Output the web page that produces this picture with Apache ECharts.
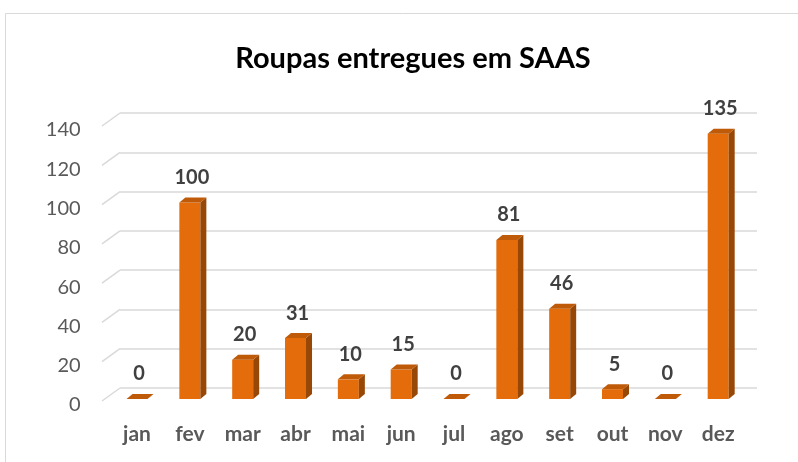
<!DOCTYPE html>
<html>
<head>
<meta charset="utf-8">
<script src="https://cdn.jsdelivr.net/npm/echarts@6/dist/echarts.min.js"></script>
<style>
  html, body { margin: 0; padding: 0; background: #fff; }
  #chart { width: 798px; height: 462px; }
</style>
</head>
<body>
<div id="chart"></div>
<script>
const categories = ['jan', 'fev', 'mar', 'abr', 'mai', 'jun', 'jul', 'ago', 'set', 'out', 'nov', 'dez']
const values = [0, 100, 20, 31, 10, 15, 0, 81, 46, 5, 0, 135]
const wallTicks = [0, 20, 40, 60, 80, 100, 120, 140]

const FONT = 'Lato, "Open Sans", sans-serif'
const DEPTH_X = 6
const DEPTH_Y = 5
const BAR_W = 21

const chart = echarts.init(document.getElementById('chart'))

function renderBar(params, api) {
  const i = api.value(0)
  const v = api.value(1)
  const top = api.coord([i, v])
  const base = api.coord([i, 0])
  const x0 = top[0] - BAR_W / 2
  const x1 = top[0] + BAR_W / 2
  return {
    type: 'group',
    children: [
      {
        type: 'rect',
        shape: { x: x0, y: top[1], width: BAR_W, height: base[1] - top[1] },
        style: { fill: '#E46C0A' }
      },
      {
        type: 'polygon',
        shape: { points: [[x1, top[1]], [x1 + DEPTH_X, top[1] - DEPTH_Y], [x1 + DEPTH_X, base[1] - DEPTH_Y], [x1, base[1]]] },
        style: { fill: '#974706' }
      },
      {
        type: 'polygon',
        shape: { points: [[x0, top[1]], [x0 + DEPTH_X, top[1] - DEPTH_Y], [x1 + DEPTH_X, top[1] - DEPTH_Y], [x1, top[1]]] },
        style: { fill: '#BF5A08' }
      },
      {
        type: 'text',
        style: {
          text: String(v),
          x: top[0] + 2,
          y: top[1] - 25,
          align: 'center',
          verticalAlign: 'middle',
          fill: '#404040',
          font: 'bold 20px ' + FONT
        }
      }
    ]
  }
}

function renderDiagonal(params, api) {
  const p = api.coord([0, api.value(0)])
  return {
    type: 'line',
    shape: { x1: p[0] - 18, y1: p[1] + 13, x2: p[0], y2: p[1] },
    style: { stroke: '#d9d9d9', lineWidth: 1.5 }
  }
}

chart.setOption({
  animation: false,
  title: {
    text: 'Roupas entregues em SAAS',
    left: 408,
    textAlign: 'center',
    top: 39,
    textStyle: { fontFamily: FONT, fontWeight: 'bold', fontSize: 29, color: '#000' }
  },
  graphic: [{
    type: 'rect',
    shape: { x: 5.5, y: 13.5, width: 900, height: 600 },
    style: { fill: 'none', stroke: '#d9d9d9', lineWidth: 1 }
  }],
  grid: [
    { left: 110.6, right: 53.4, top: 124, bottom: 63 },
    { left: 120, right: 41, top: 113, bottom: 74 }
  ],
  xAxis: [
    {
      type: 'category',
      gridIndex: 0,
      data: categories,
      axisLine: { show: false },
      axisTick: { show: false },
      axisLabel: { margin: 25, fontFamily: FONT, fontWeight: 'bold', fontSize: 21, color: '#595959' }
    },
    { type: 'value', gridIndex: 1, min: 0, max: 1, show: false }
  ],
  yAxis: [
    {
      type: 'value',
      gridIndex: 0,
      min: 0,
      max: 140,
      interval: 20,
      splitLine: { show: false },
      axisLine: { show: false },
      axisTick: { show: false },
      axisLabel: { margin: 30, verticalAlign: 'top', lineHeight: 12, fontFamily: FONT, fontSize: 20, color: '#595959' }
    },
    {
      type: 'value',
      gridIndex: 1,
      min: 0,
      max: 140,
      interval: 20,
      axisLabel: { show: false },
      axisLine: { show: false },
      axisTick: { show: false },
      splitLine: { show: true, lineStyle: { color: '#d9d9d9', width: 1.5 } }
    }
  ],
  series: [
    {
      type: 'custom',
      xAxisIndex: 1,
      yAxisIndex: 1,
      data: wallTicks.map(t => [t]),
      encode: { y: 0 },
      renderItem: renderDiagonal,
      silent: true
    },
    {
      type: 'custom',
      xAxisIndex: 0,
      yAxisIndex: 0,
      data: values.map((v, i) => [i, v]),
      encode: { x: 0, y: 1 },
      renderItem: renderBar
    }
  ]
})
</script>
</body>
</html>
